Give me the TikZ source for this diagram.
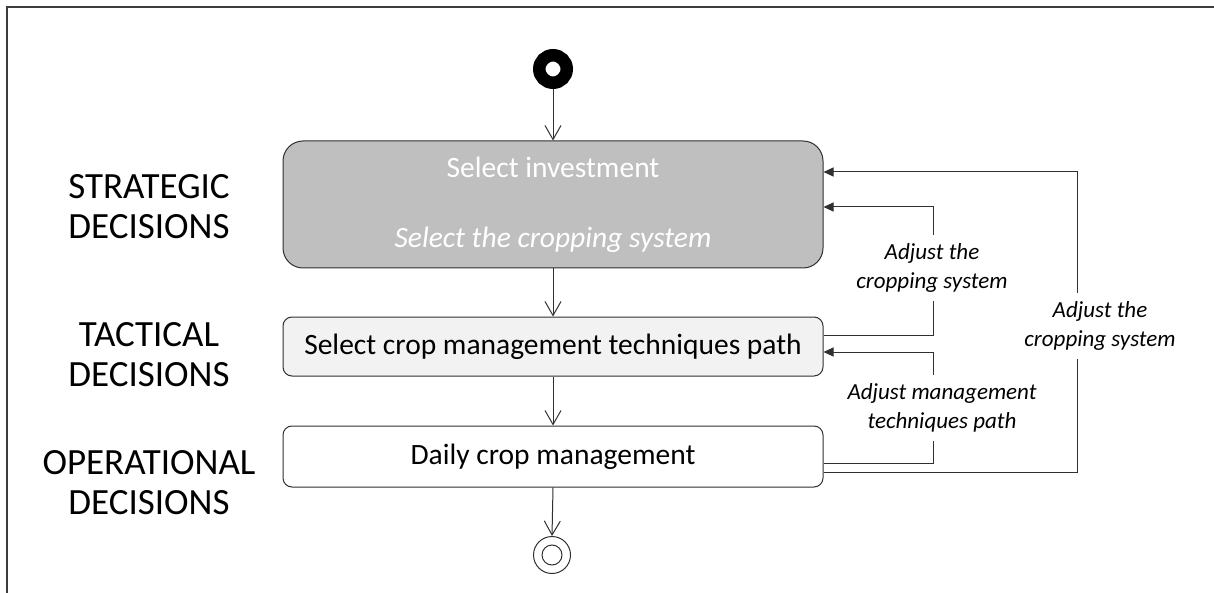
\documentclass[tikz,border=0pt]{standalone}
\usepackage{fontspec}
\setmainfont{Carlito}
\usetikzlibrary{arrows.meta,calc}
\definecolor{boxgray}{HTML}{BFBFBF}
\definecolor{lightbox}{HTML}{F2F2F2}
\definecolor{edgegray}{HTML}{303030}
\definecolor{framegray}{HTML}{3C3C3C}
\begin{document}
\begin{tikzpicture}[x=1pt,y=-1pt,
  actbox/.style={draw=edgegray, line width=1pt, minimum width=540pt, align=center, inner sep=0pt},
  flow/.style={draw=edgegray, line width=1pt, -{Straight Barb[length=14pt,width=16pt,line width=1pt]}},
  fb/.style={draw=edgegray, line width=1pt, -{Triangle[length=10pt,width=9pt]}},
  fblabel/.style={fill=white, align=center, inner xsep=1pt, inner ysep=9pt, font=\fontsize{23}{29}\selectfont\itshape},
  levellabel/.style={align=center, font=\fontsize{37}{40}\selectfont}
]
\useasboundingbox (0,0) rectangle (1214,593);
\draw[framegray, line width=1.6pt] (7,593) -- (7,7) -- (1214,7);

% start and end
\node[circle, draw=black, line width=12.5pt, minimum size=27.5pt, inner sep=0pt] (start) at (553,69) {};
\node[circle, draw=edgegray, line width=1pt, minimum size=37pt, inner sep=0pt] (end) at (552,555) {};
\draw[edgegray, line width=1pt] (end.center) circle (10);

% activity boxes
\node[actbox, fill=boxgray, minimum height=127pt, rounded corners=20pt, text=white,
      font=\fontsize{29.5}{34}\selectfont] (s1) at (553,204.5)
      {Select investment\\[36pt]\textit{Select the cropping system}};
\node[actbox, fill=lightbox, minimum height=59pt, rounded corners=9pt,
      font=\fontsize{29.5}{34}\selectfont] (s2) at (553,346.5)
      {Select crop management techniques path};
\node[actbox, fill=white, minimum height=61pt, rounded corners=9pt,
      font=\fontsize{29.5}{34}\selectfont] (s3) at (553,456.5)
      {Daily crop management};

% level labels
\node[levellabel] (lstrat) at (149,207) {STRATEGIC\\DECISIONS};
\node[levellabel] (ltact) at (149,355) {TACTICAL\\DECISIONS};
\node[levellabel] (loper) at (149,483) {OPERATIONAL\\DECISIONS};

% main flow
\draw[flow] (start) -- (start |- s1.north);
\draw[flow] (s1.south) -- (s2.north);
\draw[flow] (s2.south) -- (s3.north);
\draw[flow] (s3.south) -- (end.north);

% feedback loops
\coordinate (c1) at (933,207);
\coordinate (c2) at (933,352);
\coordinate (c3) at (1077,172);

\draw[fb] ($(s2.east)+(0,-11.5)$) -| (c1) -- ($(s1.east)+(0,2.5)$);
\draw[fb] ($(s3.east)+(0,6.5)$) -| (c2) -- ($(s2.east)+(0,5.5)$);
\draw[fb] ($(s3.east)+(0,15.5)$) -| (c3) -- ($(s1.east)+(0,-32.5)$);

\node[fblabel] (lab1) at (932,268) {Adjust the\\cropping system};
\node[fblabel] (lab2) at (942,408) {Adjust management\\techniques path};
\node[fblabel] (lab3) at (1100,326) {Adjust the\\cropping system};
\end{tikzpicture}
\end{document}
